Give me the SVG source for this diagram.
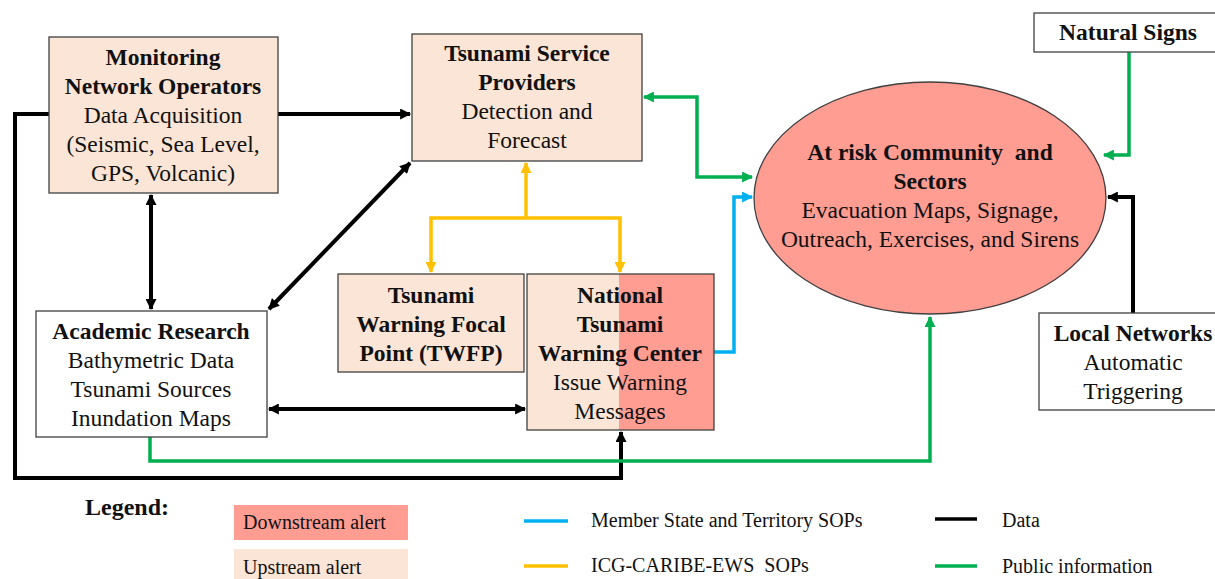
<svg xmlns="http://www.w3.org/2000/svg" width="1215" height="579" viewBox="0 0 1215 579">
<defs>
<style>
text{fill:#111;text-anchor:middle}
.b{font-weight:bold;font-size:23.5px}
.n{font-size:23.5px}
.lg{font-size:20px;text-anchor:start}
.box{stroke:#404040;stroke-width:1.3}
.up{fill:#FBE5D6}
.down{fill:#FF9D93}
.wh{fill:#fff}
.k{fill:none;stroke:#000;stroke-width:4}
.g{fill:none;stroke:#00B050;stroke-width:3.5}
.bl{fill:none;stroke:#00B0F0;stroke-width:3.5}
.y{fill:none;stroke:#FFC000;stroke-width:3.5}
</style>
<marker id="ak" viewBox="0 0 10 10" refX="9" refY="5" markerWidth="12" markerHeight="11" markerUnits="userSpaceOnUse" orient="auto-start-reverse"><path d="M0,0L10,5L0,10z" fill="#000"/></marker>
<marker id="ag" viewBox="0 0 10 10" refX="9" refY="5" markerWidth="12" markerHeight="11" markerUnits="userSpaceOnUse" orient="auto-start-reverse"><path d="M0,0L10,5L0,10z" fill="#00B050"/></marker>
<marker id="ab" viewBox="0 0 10 10" refX="9" refY="5" markerWidth="12" markerHeight="11" markerUnits="userSpaceOnUse" orient="auto-start-reverse"><path d="M0,0L10,5L0,10z" fill="#00B0F0"/></marker>
<marker id="ay" viewBox="0 0 10 10" refX="9" refY="5" markerWidth="12" markerHeight="11" markerUnits="userSpaceOnUse" orient="auto-start-reverse"><path d="M0,0L10,5L0,10z" fill="#FFC000"/></marker>
</defs>
<g font-family="Liberation Serif, Times New Roman, DejaVu Serif, serif">
<g id="connectors">
<path class="k" d="M49,114H15V478H621V432" marker-end="url(#ak)"/>
<path class="k" d="M278,114H410" marker-end="url(#ak)"/>
<path class="k" d="M151,195V309" marker-start="url(#ak)" marker-end="url(#ak)"/>
<path class="k" d="M269,309L410,163" marker-start="url(#ak)" marker-end="url(#ak)"/>
<path class="k" d="M269,409H525" marker-start="url(#ak)" marker-end="url(#ak)"/>
<path class="k" d="M1133,313V197H1108" marker-end="url(#ak)"/>
<path class="g" d="M1129,52V155H1104" marker-end="url(#ag)"/>
<path class="g" d="M644,97H697V177H752" marker-start="url(#ag)" marker-end="url(#ag)"/>
<path class="g" d="M150,437V461H930V317" marker-end="url(#ag)"/>
<path class="bl" d="M714,352H734V197H752" marker-end="url(#ab)"/>
<path class="y" d="M526,218V163" marker-end="url(#ay)"/>
<path class="y" d="M431,272V218H620V272" marker-start="url(#ay)" marker-end="url(#ay)"/>
</g>

<g id="monitoring">
<rect class="box up" x="49" y="37" width="229" height="156"/>
<text class="b" x="163" y="65">Monitoring</text>
<text class="b" x="163" y="94">Network Operators</text>
<text class="n" x="163" y="123">Data Acquisition</text>
<text class="n" x="163" y="152">(Seismic, Sea Level,</text>
<text class="n" x="163" y="181">GPS, Volcanic)</text>
</g>

<g id="tsp">
<rect class="box up" x="412" y="34" width="230" height="127"/>
<text class="b" x="527" y="61">Tsunami Service</text>
<text class="b" x="527" y="90">Providers</text>
<text class="n" x="527" y="119">Detection and</text>
<text class="n" x="527" y="148">Forecast</text>
</g>

<g id="natural-signs">
<rect class="box wh" x="1034" y="13" width="190" height="39"/>
<text class="b" x="1128" y="40">Natural Signs</text>
</g>

<g id="community">
<ellipse class="box down" cx="930" cy="198" rx="176" ry="116"/>
<text class="b" x="930" y="160" xml:space="preserve">At risk Community  and</text>
<text class="b" x="930" y="189">Sectors</text>
<text class="n" x="930" y="218">Evacuation Maps, Signage,</text>
<text class="n" x="930" y="247">Outreach, Exercises, and Sirens</text>
</g>

<g id="academic">
<rect class="box wh" x="36" y="311" width="231" height="126"/>
<text class="b" x="151" y="339">Academic Research</text>
<text class="n" x="151" y="368">Bathymetric Data</text>
<text class="n" x="151" y="397">Tsunami Sources</text>
<text class="n" x="151" y="426">Inundation Maps</text>
</g>

<g id="twfp">
<rect class="box up" x="338" y="274" width="186" height="98"/>
<text class="b" x="431" y="303">Tsunami</text>
<text class="b" x="431" y="332">Warning Focal</text>
<text class="b" x="431" y="361">Point (TWFP)</text>
</g>

<g id="ntwc">
<rect class="up" x="527" y="274" width="92" height="156"/>
<rect class="down" x="619" y="274" width="95" height="156"/>
<rect class="box" fill="none" x="527" y="274" width="187" height="156"/>
<text class="b" x="620" y="303">National</text>
<text class="b" x="620" y="332">Tsunami</text>
<text class="b" x="620" y="361">Warning Center</text>
<text class="n" x="620" y="390">Issue Warning</text>
<text class="n" x="620" y="419">Messages</text>
</g>

<g id="local-networks">
<rect class="box wh" x="1039" y="313" width="190" height="97"/>
<text class="b" x="1133" y="341">Local Networks</text>
<text class="n" x="1133" y="370">Automatic</text>
<text class="n" x="1133" y="399">Triggering</text>
</g>

<g id="legend">
<text class="b" x="85" y="515" style="text-anchor:start;font-size:24px">Legend:</text>
<rect class="down" x="234" y="505" width="174" height="35"/>
<text class="lg" x="243" y="529">Downstream alert</text>
<rect class="up" x="234" y="549" width="174" height="30"/>
<text class="lg" x="243" y="574">Upstream alert</text>
<line x1="524" y1="521" x2="568" y2="521" stroke="#00B0F0" stroke-width="3.5"/>
<text class="lg" x="591" y="527">Member State and Territory SOPs</text>
<line x1="524" y1="566" x2="568" y2="566" stroke="#FFC000" stroke-width="3.5"/>
<text class="lg" x="591" y="572" xml:space="preserve">ICG-CARIBE-EWS  SOPs</text>
<line x1="935" y1="519" x2="977" y2="519" stroke="#000" stroke-width="3.5"/>
<text class="lg" x="1002" y="527">Data</text>
<line x1="935" y1="566" x2="977" y2="566" stroke="#00B050" stroke-width="3.5"/>
<text class="lg" x="1002" y="573">Public information</text>
</g>
</g>
</svg>
